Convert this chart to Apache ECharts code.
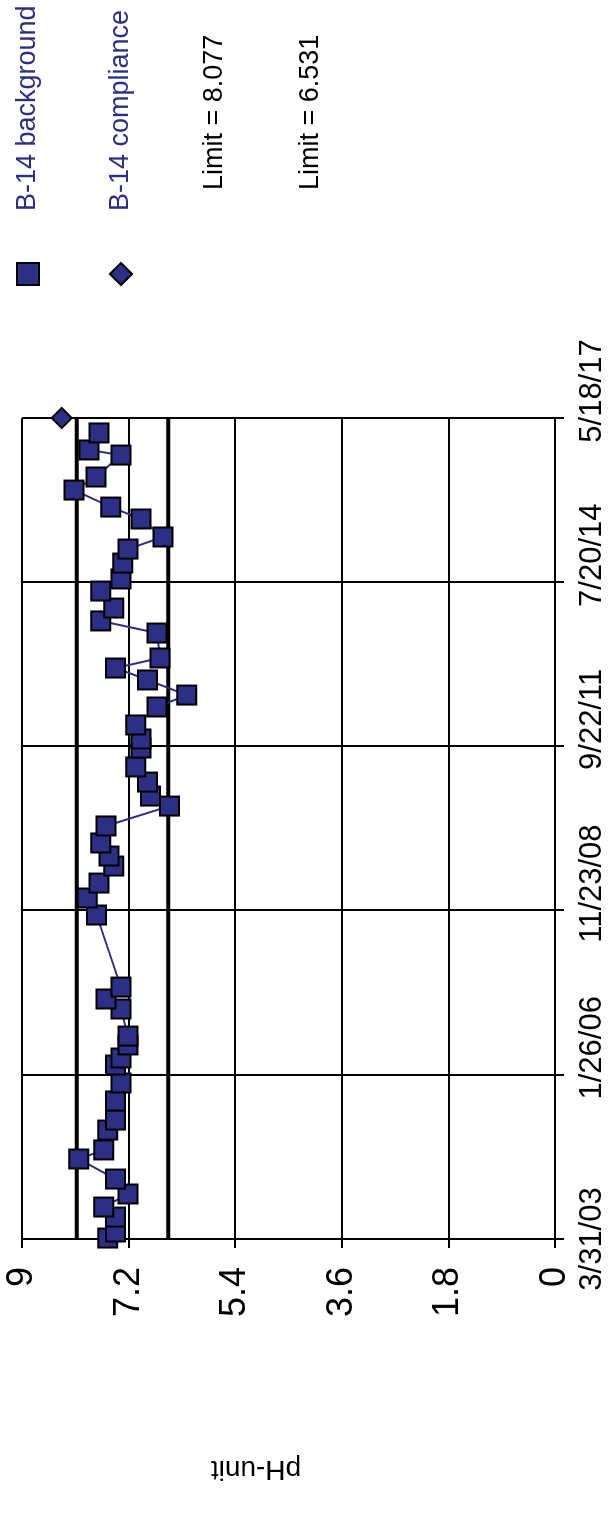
<!DOCTYPE html>
<html>
<head>
<meta charset="utf-8">
<script src="https://cdn.jsdelivr.net/npm/echarts@6/dist/echarts.min.js"></script>
<style>
  html, body { margin: 0; padding: 0; background: #fff; overflow: hidden; }
  #wrap { width: 611px; height: 1535px; position: relative; overflow: hidden; }
  /* chart is laid out landscape and turned a quarter turn counter-clockwise */
  #chart { position: absolute; left: 0; top: 0; width: 1535px; height: 611px;
           transform-origin: 0 0; transform: translate(0, 1535px) rotate(-90deg); }
</style>
</head>
<body>
<div id="wrap"><div id="chart"></div></div>
<script>
// axis range (dates)
const startDate = '2003-03-31';
const endDate = '2017-05-18';

// B-14 background samples
const backgroundDates = [
  '2003-04-06', '2003-05-14', '2003-08-16', '2003-10-18', '2004-01-08', '2004-04-11',
  '2004-08-15', '2004-10-11', '2005-02-13', '2005-04-17', '2005-08-15', '2005-12-06',
  '2006-03-29', '2006-05-12', '2006-08-02', '2006-09-27', '2007-03-16', '2007-05-18',
  '2007-08-01', '2008-10-27', '2009-02-11', '2009-05-16', '2009-08-31', '2009-11-02',
  '2010-01-23', '2010-05-10', '2010-09-12', '2010-11-14', '2011-02-10', '2011-05-16',
  '2011-09-12', '2011-11-08', '2012-02-04', '2012-05-27', '2012-08-10', '2012-11-13',
  '2013-01-27', '2013-03-31', '2013-09-04', '2013-11-19', '2014-02-08', '2014-05-26',
  '2014-08-10', '2014-11-18', '2015-02-14', '2015-05-01', '2015-08-22', '2015-11-05',
  '2016-02-20', '2016-05-12', '2016-09-27', '2016-10-29', '2017-02-13'
];
const backgroundPH = [
  7.55, 7.42, 7.42, 7.62, 7.21, 7.42,
  8.04, 7.62, 7.55, 7.42, 7.42, 7.33,
  7.42, 7.33, 7.21, 7.21, 7.33, 7.58,
  7.33, 7.74, 7.90, 7.70, 7.45, 7.53,
  7.67, 7.58, 6.51, 6.83, 6.88, 7.08,
  6.99, 6.99, 7.08, 6.72, 6.22, 6.88,
  7.42, 6.67, 6.72, 7.67, 7.45, 7.67,
  7.33, 7.30, 7.21, 6.62, 6.99, 7.50,
  8.12, 7.75, 7.33, 7.87, 7.70
];

// B-14 compliance sample
const complianceDates = ['2017-05-18'];
const compliancePH = [8.33];

// limits
const upperLimit = 8.077;
const lowerLimit = 6.531;

const navy = '#2C2F84';
const font = "'Liberation Sans', Arial, sans-serif";

const startMs = Date.parse(startDate + 'T00:00:00Z');
function dayOf(s) {
  return Math.round((Date.parse(s + 'T00:00:00Z') - startMs) / 86400000);
}
function dateLabel(v) {
  const d = new Date(startMs + Math.floor(v + 1e-6) * 86400000);
  return (d.getUTCMonth() + 1) + '/' + d.getUTCDate() + '/' + String(d.getUTCFullYear()).slice(2);
}
const span = dayOf(endDate);

const myChart = echarts.init(document.getElementById('chart'), null, { renderer: 'canvas' });

const legendIcon = { color: navy, borderColor: '#000', borderWidth: 2 };

const option = {
  animation: false,
  backgroundColor: '#fff',
  grid: { left: 296, right: 418, top: 22, bottom: 56, outerBoundsMode: 'none' },
  legend: [
    {
      orient: 'vertical', left: 1244, top: 9,
      itemWidth: 22, itemHeight: 22, itemGap: 65,
      textStyle: { fontSize: 27, lineHeight: 28, color: navy, fontFamily: font, padding: [0, 0, 0, 47] },
      data: [
        { name: 'B-14 background', icon: 'rect', itemStyle: legendIcon },
        { name: 'B-14 compliance', icon: 'diamond', itemStyle: legendIcon }
      ]
    },
    {
      orient: 'vertical', left: 1244, top: 196,
      itemWidth: 22, itemHeight: 22, itemGap: 68,
      textStyle: { fontSize: 27, lineHeight: 28, color: '#000', fontFamily: font, padding: [0, 0, 0, 69] },
      data: [
        { name: 'Limit = 8.077', icon: 'none' },
        { name: 'Limit = 6.531', icon: 'none' }
      ]
    }
  ],
  xAxis: {
    type: 'value',
    min: 0, max: span, interval: span / 5,
    axisLine: { show: true, onZero: false, lineStyle: { color: '#000', width: 2 } },
    axisTick: { show: true, length: 9, lineStyle: { color: '#000', width: 2 } },
    splitLine: { show: true, lineStyle: { color: '#000', width: 2 } },
    axisLabel: {
      color: '#000', margin: 22,
      showMinLabel: true, showMaxLabel: true,
      // later labels sit a little to the right of their tick, as in the source chart
      formatter: (v, i) => (i === 0 ? '{a|' : '{b|') + dateLabel(v) + '}',
      rich: {
        a: { fontSize: 31, fontFamily: font, color: '#000' },
        b: { fontSize: 31, fontFamily: font, color: '#000', padding: [0, 0, 0, 54] }
      }
    }
  },
  yAxis: {
    type: 'value',
    min: 0, max: 9, interval: 1.8,
    axisLine: { show: true, lineStyle: { color: '#000', width: 2 } },
    axisTick: { show: true, length: 9, lineStyle: { color: '#000', width: 2 } },
    splitLine: { show: true, lineStyle: { color: '#000', width: 2 } },
    axisLabel: { fontSize: 36, color: '#000', fontFamily: font, margin: 28 }
  },
  graphic: [{
    type: 'text', x: 66, y: 256, rotation: Math.PI / 2,
    style: { text: 'pH-unit', fontSize: 28, fill: '#000', fontFamily: font, align: 'center', verticalAlign: 'middle' }
  }],
  series: [
    {
      name: 'Limit = 8.077', type: 'line', symbol: 'none', z: 2,
      lineStyle: { color: '#000', width: 4 },
      data: [[0, upperLimit], [span, upperLimit]]
    },
    {
      name: 'Limit = 6.531', type: 'line', symbol: 'none', z: 2,
      lineStyle: { color: '#000', width: 4 },
      data: [[0, lowerLimit], [span, lowerLimit]]
    },
    {
      name: 'B-14 background', type: 'line', z: 3, clip: false,
      symbol: 'rect', symbolSize: 19, showAllSymbol: true,
      lineStyle: { color: navy, width: 2 },
      itemStyle: { color: navy, borderColor: '#000', borderWidth: 2 },
      data: backgroundDates.map((d, i) => [dayOf(d), backgroundPH[i]])
    },
    {
      name: 'B-14 compliance', type: 'scatter', z: 4, clip: false,
      symbol: 'diamond', symbolSize: 20,
      itemStyle: { color: navy, borderColor: '#000', borderWidth: 2, opacity: 1 },
      data: complianceDates.map((d, i) => [dayOf(d), compliancePH[i]])
    }
  ]
};

myChart.setOption(option);
</script>
</body>
</html>
